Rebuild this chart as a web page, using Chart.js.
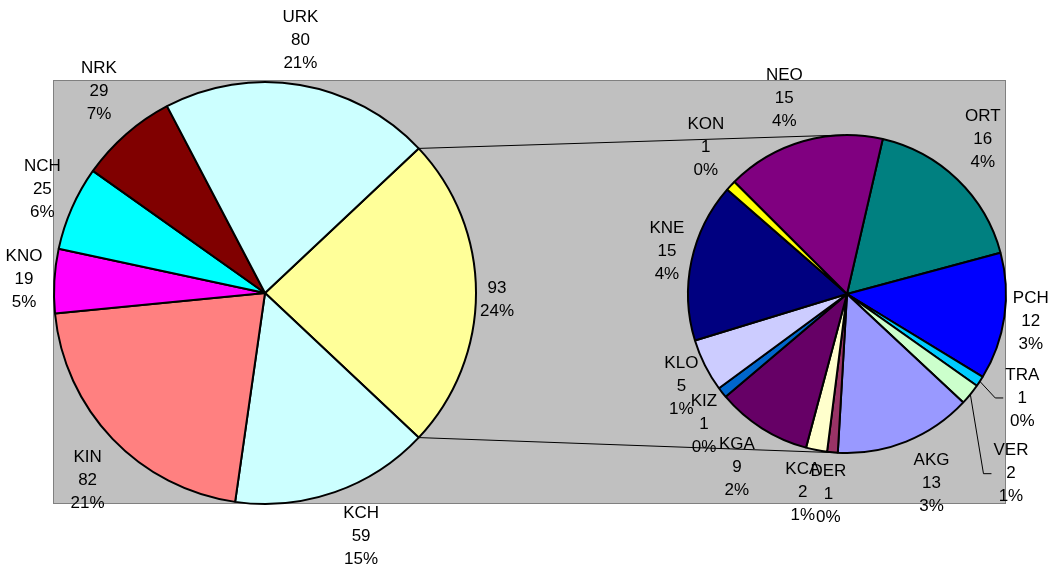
<!DOCTYPE html>
<html>
<head>
<meta charset="utf-8">
<title>Pie of pie</title>
<script src="https://cdn.jsdelivr.net/npm/chart.js@4.4.0/dist/chart.umd.min.js"></script>
<style>
  body { margin: 0; background: #fff; }
  #wrap { position: relative; width: 1057px; height: 569px; }
  #wrap canvas { position: absolute; left: 0; top: 0; }
</style>
</head>
<body>
<div id="wrap">
  <canvas id="mainPie" width="1057" height="569"></canvas>
  <canvas id="subPie" width="1057" height="569"></canvas>
</div>
<script>
// main pie, clockwise starting with the split-off "other" slice (no name)
const mainNames  = ['', 'KCH', 'KIN', 'KNO', 'NCH', 'NRK', 'URK'];
const mainValues = [93, 59, 82, 19, 25, 29, 80];
const mainColors = ['#FFFF99', '#CCFFFF', '#FF8080', '#FF00FF', '#00FFFF', '#800000', '#CCFFFF'];

// secondary pie: breakdown of the "other" slice, clockwise from ORT
const subNames  = ['ORT', 'PCH', 'TRA', 'VER', 'AKG', 'DER', 'KCA', 'KGA', 'KIZ', 'KLO', 'KNE', 'KON', 'NEO'];
const subValues = [16, 12, 1, 2, 13, 1, 2, 9, 1, 5, 15, 1, 15];
const subColors = ['#008080', '#0000FF', '#00CCFF', '#CCFFCC', '#9999FF', '#993366', '#FFFFCC',
                   '#660066', '#0066CC', '#CCCCFF', '#000080', '#FFFF00', '#800080'];

const total = mainValues.reduce((a, b) => a + b, 0);

const FONT = '17px "Liberation Sans", Arial, sans-serif';
const LINE_H = 23;
const GAP = 8;

// small hand tweaks so labels sit where Excel's best-fit put them
const mainNudge = { '': [-4, 7], KCH: [11, 0], KIN: [7, 11], KNO: [-2, 0], NCH: [6, -3], NRK: [3, -8], URK: [-7, 0] };
const subNudge = {
  ORT: [-6, -8], PCH: [-4, 0], TRA: [8, -6], VER: [7, 52], AKG: [8, -2], DER: [0, -2],
  KCA: [-5, -2], KGA: [0, 0], KIZ: [13, 7], KLO: [11, 4], KNE: [7, -3], KON: [8, -8], NEO: [-6, 2]
};
const withLeader = ['TRA', 'VER'];

function sliceLabels(names, values, nudges) {
  return {
    id: 'sliceLabels',
    afterDatasetsDraw(chart) {
      const ctx = chart.ctx;
      const arcs = chart.getDatasetMeta(0).data;
      ctx.save();
      ctx.font = FONT;
      ctx.fillStyle = '#000';
      ctx.strokeStyle = '#000';
      ctx.lineWidth = 1;
      ctx.textAlign = 'center';
      ctx.textBaseline = 'middle';
      arcs.forEach((arc, i) => {
        const pct = Math.round(values[i] / total * 100) + '%';
        const lines = [names[i], String(values[i]), pct].filter(s => s !== '');
        const w = Math.max(...lines.map(s => ctx.measureText(s).width));
        const h = lines.length * LINE_H;
        const mid = (arc.startAngle + arc.endAngle) / 2;
        const c = Math.cos(mid), s = Math.sin(mid);
        const d = arc.outerRadius + GAP + Math.abs(c) * w / 2 + Math.abs(s) * h / 2;
        const n = nudges[names[i]] || [0, 0];
        const x = arc.x + c * d + n[0];
        const y = arc.y + s * d + n[1];
        if (withLeader.includes(names[i])) {
          const left = x - w / 2;
          ctx.beginPath();
          ctx.moveTo(arc.x + c * arc.outerRadius, arc.y + s * arc.outerRadius);
          ctx.lineTo(left - 10, y);
          ctx.lineTo(left - 2, y);
          ctx.stroke();
        }
        lines.forEach((t, k) => ctx.fillText(t, x, y - h / 2 + LINE_H * (k + 0.5)));
      });
      ctx.restore();
    }
  };
}

// grey plot area behind both pies
const plotArea = {
  id: 'plotArea',
  beforeDraw(chart) {
    const ctx = chart.ctx;
    ctx.save();
    ctx.fillStyle = '#C0C0C0';
    ctx.fillRect(53, 80, 953, 424);
    ctx.strokeStyle = '#808080';
    ctx.lineWidth = 1;
    ctx.strokeRect(53.5, 80.5, 952, 423);
    ctx.restore();
  }
};

const baseOptions = {
  responsive: false,
  devicePixelRatio: 1,
  animation: false,
  plugins: { legend: { display: false }, tooltip: { enabled: false } }
};

const mainChart = new Chart(document.getElementById('mainPie'), {
  type: 'pie',
  data: {
    labels: mainNames,
    datasets: [{ data: mainValues, backgroundColor: mainColors, borderColor: '#000', borderWidth: 2 }]
  },
  options: {
    ...baseOptions,
    // centre the "other" slice on 3 o'clock
    rotation: 90 - (mainValues[0] / total * 360) / 2,
    layout: { padding: { left: 53, right: 580, top: 81, bottom: 64 } }
  },
  plugins: [plotArea, sliceLabels(mainNames, mainValues, mainNudge)]
});

// lines joining the "other" slice to the secondary pie
const connectors = {
  id: 'connectors',
  afterDatasetsDraw(chart) {
    const other = mainChart.getDatasetMeta(0).data[0];
    const sub = chart.getDatasetMeta(0).data[0];
    const ctx = chart.ctx;
    ctx.save();
    ctx.strokeStyle = '#000';
    ctx.lineWidth = 1;
    ctx.beginPath();
    ctx.moveTo(other.x + Math.cos(other.startAngle) * other.outerRadius,
               other.y + Math.sin(other.startAngle) * other.outerRadius);
    ctx.lineTo(sub.x - 3, sub.y - sub.outerRadius);
    ctx.moveTo(other.x + Math.cos(other.endAngle) * other.outerRadius,
               other.y + Math.sin(other.endAngle) * other.outerRadius);
    ctx.lineTo(sub.x - 3, sub.y + sub.outerRadius);
    ctx.stroke();
    ctx.restore();
  }
};

new Chart(document.getElementById('subPie'), {
  type: 'pie',
  data: {
    labels: subNames,
    datasets: [{ data: subValues, backgroundColor: subColors, borderColor: '#000', borderWidth: 2 }]
  },
  options: {
    ...baseOptions,
    rotation: 13,
    layout: { padding: { left: 687, right: 50, top: 134, bottom: 115 } }
  },
  plugins: [connectors, sliceLabels(subNames, subValues, subNudge)]
});
</script>
</body>
</html>
